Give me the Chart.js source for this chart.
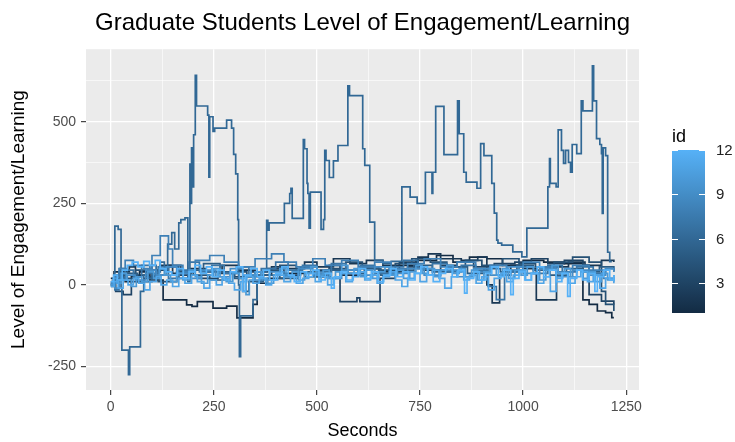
<!DOCTYPE html>
<html><head><meta charset="utf-8">
<script src="https://cdn.jsdelivr.net/npm/chart.js@4.4.1/dist/chart.umd.min.js"></script>
<style>html,body{margin:0;padding:0;background:#fff}#wrap{width:735px;height:442px}</style>
</head><body><div id="wrap"><canvas id="c" width="735" height="442"></canvas></div>
<script>
const chartTitle = "Graduate Students Level of Engagement/Learning";
const xTitle = "Seconds";
const yTitle = "Level of Engagement/Learning";
const legendTitle = "id";
const xTickLabels = [0, 250, 500, 750, 1000, 1250];
const yTickLabels = [-250, 0, 250, 500];
const legendTickLabels = [3, 6, 9, 12];
const ids = [1,2,3,4,5,6,7,8,9,10,11,12];

const s1 = [[0,20],[8,40],[20,30],[35,10],[50,25],[70,40],[95,15],[127,-46],[184,-61],[197,-66],[210,-51],[248,-71],[281,-65],[306,-101],[345,-60],[355,5],[380,20],[420,35],[470,25],[520,45],[560,30],[600,50],[650,40],[700,60],[740,75],[790,90],[830,70],[870,85],[912,80],[950,60],[1000,75],[1050,70],[1100,65],[1145,-46],[1160,-60],[1180,-80],[1200,-85],[1215,-100],[1220,-100]];
const s2 = [[0,0],[10,15],[25,40],[45,55],[60,30],[90,45],[120,60],[150,35],[190,50],[230,40],[270,60],[310,45],[350,30],[390,55],[430,50],[470,70],[500,55],[540,80],[580,65],[620,75],[660,60],[700,70],[745,85],[770,95],[800,80],[850,75],[890,85],[912,0],[925,-55],[943,30],[970,60],[1000,50],[1032,-46],[1081,55],[1110,70],[1150,60],[1190,75],[1220,70]];
const s3 = [[0,10],[12,-20],[30,-30],[50,10],[80,20],[110,45],[140,60],[170,30],[210,20],[260,35],[300,25],[340,40],[380,50],[420,30],[460,55],[500,45],[530,60],[556,-51],[597,-40],[604,-51],[653,20],[690,40],[720,55],[760,45],[800,60],[840,70],[880,55],[930,65],[980,70],[1020,80],[1060,65],[1100,75],[1145,60],[1160,-30],[1190,-50],[1220,-60]];
const s4 = [[0,5],[15,30],[30,20],[60,45],[85,25],[115,10],[160,40],[200,30],[240,15],[290,40],[330,25],[370,45],[410,60],[450,40],[490,30],[530,50],[570,70],[610,55],[650,45],[690,65],[730,80],[775,70],[815,55],[860,75],[900,60],[950,80],[990,65],[1030,55],[1075,70],[1120,85],[1160,70],[1190,-20],[1200,-60],[1220,-80]];
const s5 = [[0,-5],[10,20],[22,50],[40,35],[65,10],[100,30],[135,55],[165,20],[195,45],[225,65],[265,40],[300,20],[320,-20],[335,10],[370,30],[410,20],[455,40],[495,25],[535,45],[575,35],[615,50],[655,30],[695,45],[735,60],[780,40],[825,55],[865,35],[905,50],[945,40],[985,60],[1025,45],[1065,30],[1105,50],[1145,40],[1185,55],[1220,40]];
const s6 = [[0,0],[5,10],[10,180],[18,170],[25,-10],[27,-200],[40,-200],[43,-275],[46,-190],[70,-190],[72,-20],[80,30],[90,20],[100,60],[110,40],[120,70],[130,50],[138,125],[148,160],[155,110],[165,190],[170,200],[180,205],[187,10],[192,370],[194,250],[196,420],[198,300],[201,460],[205,642],[208,548],[235,520],[238,330],[240,515],[248,470],[252,480],[262,480],[281,505],[293,480],[298,400],[303,340],[308,200],[310,0],[312,-220],[315,-95],[330,-95],[345,-45],[355,10],[365,40],[378,198],[381,168],[384,190],[420,190],[421,250],[434,280],[437,296],[440,204],[466,204],[467,445],[470,417],[476,311],[478,280],[481,174],[484,284],[495,284],[510,170],[516,200],[519,412],[522,381],[530,329],[540,380],[551,427],[574,427],[575,610],[579,580],[606,580],[611,417],[616,366],[623,366],[628,192],[640,75],[660,65],[680,72],[706,300],[726,269],[743,250],[763,345],[779,280],[781,345],[788,547],[808,399],[841,564],[845,463],[856,345],[862,315],[888,296],[897,433],[905,396],[924,311],[930,220],[936,137],[939,128],[948,122],[975,101],[997,86],[1009,174],[1051,174],[1060,300],[1064,387],[1066,311],[1080,300],[1085,475],[1093,412],[1098,372],[1103,412],[1110,375],[1115,345],[1119,430],[1130,402],[1141,564],[1145,533],[1168,671],[1171,564],[1178,448],[1186,430],[1190,402],[1192,219],[1194,420],[1200,396],[1205,100],[1210,71],[1215,71]];
const s7 = [[0,5],[10,-15],[20,20],[35,45],[55,25],[75,60],[95,35],[115,55],[140,20],[165,45],[190,70],[215,40],[245,60],[275,35],[305,55],[335,30],[365,50],[400,70],[430,45],[465,60],[500,40],[535,65],[570,45],[605,60],[640,35],[675,55],[710,75],[745,50],[780,65],[815,40],[850,60],[885,45],[915,-5],[935,-45],[955,40],[990,55],[1025,35],[1060,60],[1095,40],[1130,55],[1170,35],[1200,50],[1220,45]];
const s8 = [[0,0],[8,25],[20,50],[35,75],[55,60],[80,50],[100,90],[120,150],[140,110],[150,60],[175,40],[205,75],[240,90],[275,70],[310,55],[350,80],[390,95],[420,70],[450,55],[490,80],[520,60],[560,75],[600,55],[640,70],[680,50],[720,65],[760,80],[800,55],[840,70],[885,40],[920,60],[960,45],[1000,70],[1040,55],[1080,40],[1120,60],[1160,45],[1195,20],[1220,10]];
const s9 = [[0,5],[10,-10],[20,15],[40,30],[60,15],[85,45],[110,30],[135,55],[160,35],[190,20],[220,45],[255,25],[290,50],[320,30],[350,15],[385,40],[420,25],[455,50],[490,35],[525,20],[560,45],[600,30],[640,55],[680,35],[720,50],[760,30],[800,45],[840,25],[880,50],[920,30],[960,55],[1000,35],[1040,50],[1080,25],[1120,45],[1160,30],[1200,50],[1220,40]];
const s10 = [[0,0],[6,20],[14,5],[25,35],[38,15],[50,-5],[62,25],[75,10],[90,40],[104,20],[118,50],[130,30],[145,10],[160,35],[175,15],[190,45],[205,25],[220,5],[235,30],[250,50],[265,25],[280,10],[296,35],[312,20],[328,-30],[336,15],[350,40],[365,20],[380,5],[395,30],[410,50],[425,25],[440,40],[455,15],[470,35],[485,55],[500,30],[515,45],[530,20],[545,40],[560,60],[575,35],[590,50],[605,25],[620,45],[635,20],[650,40],[665,55],[680,30],[695,45],[710,20],[725,40],[740,60],[755,35],[770,50],[785,25],[800,45],[815,60],[830,35],[845,50],[860,25],[875,45],[890,15],[905,40],[920,55],[935,30],[950,50],[965,20],[980,45],[995,30],[1010,55],[1025,35],[1040,15],[1055,45],[1070,60],[1085,35],[1100,50],[1115,25],[1130,45],[1145,20],[1160,40],[1175,10],[1190,35],[1205,15],[1220,30]];
const s11 = [[0,-5],[8,10],[18,-10],[30,15],[42,0],[55,20],[68,5],[82,-15],[95,10],[110,25],[122,0],[136,15],[150,-5],[165,20],[180,5],[196,30],[210,10],[226,-10],[240,15],[256,0],[270,20],[286,5],[300,-15],[315,10],[330,25],[345,5],[360,20],[376,0],[390,15],[405,30],[420,10],[436,25],[450,5],[466,20],[480,35],[496,10],[510,25],[526,0],[540,20],[556,35],[570,10],[586,25],[600,40],[616,15],[630,30],[646,5],[660,25],[676,40],[690,15],[706,-5],[720,20],[736,35],[750,10],[766,30],[780,45],[796,20],[810,-10],[826,25],[840,40],[856,15],[870,30],[886,5],[900,25],[916,-15],[930,20],[946,35],[960,10],[976,30],[990,45],[1006,15],[1020,35],[1036,5],[1050,25],[1066,-20],[1080,20],[1096,35],[1110,5],[1126,25],[1140,40],[1156,10],[1170,30],[1186,-10],[1200,20],[1220,5]];
const s12 = [[0,10],[7,30],[16,15],[28,45],[40,60],[52,70],[66,55],[80,72],[94,60],[108,75],[120,50],[134,40],[148,30],[162,50],[176,20],[190,40],[204,60],[218,35],[232,55],[246,25],[260,45],[275,15],[290,40],[305,55],[320,-20],[326,30],[340,50],[355,25],[370,45],[385,15],[400,35],[415,55],[430,30],[445,10],[460,40],[475,25],[490,45],[505,15],[520,35],[535,-10],[542,25],[558,40],[572,15],[588,35],[602,50],[618,20],[632,40],[648,10],[662,30],[678,50],[692,25],[708,40],[722,15],[738,35],[752,55],[768,30],[782,10],[798,35],[812,50],[828,25],[842,45],[858,-25],[864,20],[880,40],[894,15],[910,35],[924,55],[940,25],[954,45],[970,-30],[976,20],[990,40],[1004,15],[1020,35],[1034,55],[1050,25],[1064,45],[1080,10],[1094,35],[1108,-35],[1114,20],[1130,45],[1144,15],[1160,35],[1174,-20],[1180,25],[1195,45],[1210,15],[1220,30]];
const seriesList = [s1,s2,s3,s4,s5,s6,s7,s8,s9,s10,s11,s12];

const FONT = "'Liberation Sans', Arial, Helvetica, sans-serif";
const LOW = [19,43,67], HIGH = [86,177,247];
function idColor(v){
  const t = (v - 1) / 11;
  const c = LOW.map((a,k)=>Math.round(a + (HIGH[k]-a)*t));
  return 'rgb(' + c.join(',') + ')';
}

const X_MIN = -60, X_MAX = 1281, Y_MIN = -322, Y_MAX = 722;
function withMinor(major){
  const step = (major[1]-major[0]) / 2;
  const out = [];
  for (let v = major[0] - step; v <= major[major.length-1] + step; v += step) out.push(v);
  return out;
}

const panelBg = {
  id: 'panelBg',
  beforeDraw(chart){
    const {ctx, chartArea: a} = chart;
    ctx.save();
    ctx.fillStyle = '#EBEBEB';
    ctx.fillRect(a.left, a.top, a.right - a.left, a.bottom - a.top);
    ctx.restore();
  }
};

const colorBar = {
  id: 'colorBar',
  afterDraw(chart){
    const ctx = chart.ctx;
    const x0 = 672, x1 = 705, yTop = 150, yBot = 313;
    const vMin = 1, vMax = 12;
    const yOf = v => yBot - (v - vMin) / (vMax - vMin) * (yBot - yTop);
    ctx.save();
    ctx.fillStyle = '#000';
    ctx.font = '18px ' + FONT;
    ctx.textBaseline = 'alphabetic';
    ctx.textAlign = 'left';
    ctx.fillText(legendTitle, 672, 142);
    const g = ctx.createLinearGradient(0, yBot, 0, yTop);
    for (let i = 0; i <= 20; i++) g.addColorStop(i/20, idColor(1 + 11*i/20));
    ctx.fillStyle = g;
    ctx.fillRect(x0, yTop, x1 - x0, yBot - yTop);
    ctx.strokeStyle = '#fff';
    ctx.lineWidth = 1;
    ctx.fillStyle = '#222';
    ctx.font = '15px ' + FONT;
    ctx.textBaseline = 'middle';
    legendTickLabels.forEach(v => {
      const y = Math.round(yOf(v)) + 0.5;
      ctx.beginPath();
      ctx.moveTo(x0, y); ctx.lineTo(x0 + 6, y);
      ctx.moveTo(x1 - 6, y); ctx.lineTo(x1, y);
      ctx.stroke();
      ctx.fillText(String(v), 716, y);
    });
    ctx.restore();
  }
};

const datasets = seriesList.map((s, i) => ({
  label: 'id ' + ids[i],
  data: s.map(p => ({x: p[0], y: p[1]})),
  borderColor: idColor(ids[i]),
  backgroundColor: idColor(ids[i]),
  borderWidth: 1.7,
  pointRadius: 0,
  stepped: true,
  fill: false,
  order: 12 - ids[i]
}));

function gridOpts(majors){
  const isMajor = v => majors.some(m => Math.abs(m - v) < 1e-6);
  return {
    color: '#FFFFFF',
    lineWidth: c => (c.tick && isMajor(c.tick.value)) ? 1.3 : 0.6,
    tickColor: c => (c.tick && isMajor(c.tick.value)) ? '#333333' : 'rgba(0,0,0,0)',
    tickWidth: 1.1,
    tickLength: 5,
    drawOnChartArea: true,
    drawTicks: true
  };
}

new Chart(document.getElementById('c'), {
  type: 'line',
  data: { datasets },
  options: {
    responsive: false,
    animation: false,
    devicePixelRatio: 1,
    layout: { padding: { left: 0, right: 96, top: 0, bottom: 0 } },
    plugins: {
      legend: { display: false },
      tooltip: { enabled: false },
      title: {
        display: true, text: chartTitle, fullSize: false,
        color: '#000', font: { family: FONT, size: 24, weight: 'normal' },
        padding: { top: 9, bottom: 11.4 }
      }
    },
    scales: {
      x: {
        type: 'linear', min: X_MIN, max: X_MAX,
        afterBuildTicks: s => { s.ticks = withMinor(xTickLabels).filter(v => v >= X_MIN && v <= X_MAX).map(v => ({value: v})); },
        afterFit: s => { s.height = 52; },
        ticks: {
          autoSkip: false, maxRotation: 0, padding: 4,
          color: '#4D4D4D', font: { family: FONT, size: 14 },
          callback: v => xTickLabels.includes(v) ? String(v) : ''
        },
        grid: gridOpts(xTickLabels),
        border: { display: false },
        title: { display: true, text: xTitle, color: '#000', font: { family: FONT, size: 18 }, padding: { top: 0, bottom: 0 } }
      },
      y: {
        type: 'linear', min: Y_MIN, max: Y_MAX,
        afterBuildTicks: s => { s.ticks = withMinor(yTickLabels).filter(v => v >= Y_MIN && v <= Y_MAX).map(v => ({value: v})); },
        afterFit: s => { s.width = 86; },
        ticks: {
          autoSkip: false, padding: 5,
          color: '#4D4D4D', font: { family: FONT, size: 14 },
          callback: v => yTickLabels.includes(v) ? String(v) : ''
        },
        grid: gridOpts(yTickLabels),
        border: { display: false },
        title: { display: true, text: yTitle, color: '#000', font: { family: FONT, size: 19 }, padding: { top: 7, bottom: 0 } }
      }
    }
  },
  plugins: [panelBg, colorBar]
});
</script>
</body></html>
